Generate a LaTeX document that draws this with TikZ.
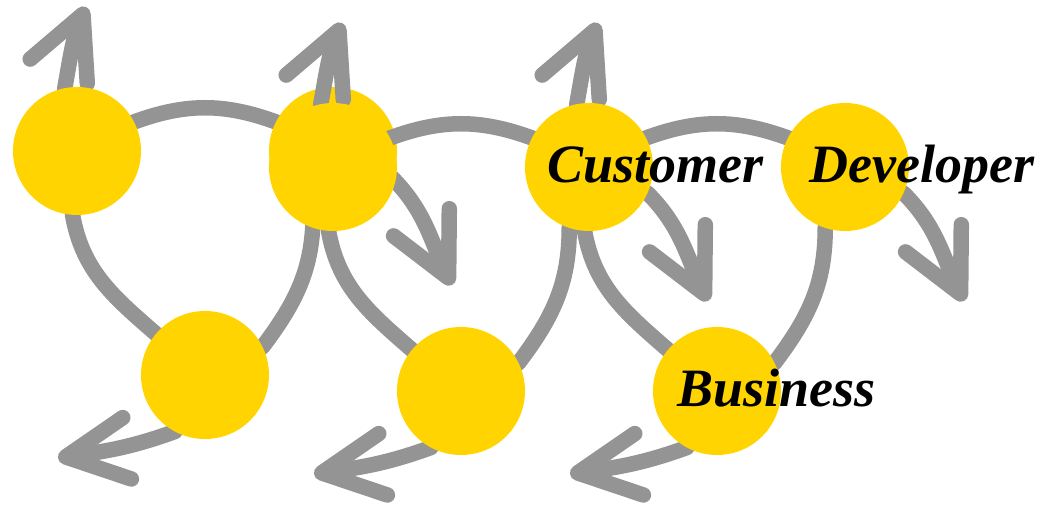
\documentclass[tikz,border=0pt]{standalone}
\usepackage{fontspec}
\setmainfont{Liberation Serif}
\usetikzlibrary{arrows.meta}
\pgfdeclarelayer{lines1}
\pgfdeclarelayer{dots1}
\pgfdeclarelayer{lines2}
\pgfdeclarelayer{dots2}
\pgfdeclarelayer{lines3}
\pgfsetlayers{lines1,dots1,lines2,dots2,lines3,main}
\definecolor{dotyellow}{RGB}{255,212,0}
\definecolor{bandgray}{RGB}{148,148,148}
\begin{document}
\begin{tikzpicture}[x=1pt, y=1pt,
    dot/.style={circle, fill=dotyellow, minimum size=128pt, inner sep=0pt, outer sep=0pt},
    band/.style={draw=bandgray, line width=15.5pt, line cap=round},
    flow/.style={band, -{Straight Barb[length=62pt, width=62pt, round]}},
    word/.style={anchor=base west, font=\fontsize{54}{60}\selectfont\bfseries\itshape}]
  \useasboundingbox (0,0) rectangle (1043,504);
  \begin{pgfonlayer}{dots1}
    \node[dot] (t1) at (77,353) {};
    \node[dot] (b1) at (205,129) {};
    \node[dot] (t2) at (333,353) {};
  \end{pgfonlayer}
  \begin{pgfonlayer}{dots2}
    \node[dot] (t2b) at (333,337) {};
    \node[dot] (b2) at (461,113) {};
  \end{pgfonlayer}
  \node[dot] (t3) at (589,337) {};
  \node[dot] (b3) at (717,113) {};
  \node[dot] (t4) at (845,337) {};
  \coordinate (up1) at (86,497);
  \coordinate (up2) at (342,481);
  \coordinate (up3) at (598,481);
  \coordinate (dr1) at (452,219);
  \coordinate (dr2) at (708,203);
  \coordinate (dr3) at (964,203);
  \coordinate (lt1) at (58,46);
  \coordinate (lt2) at (314,30);
  \coordinate (lt3) at (570,30);
  \begin{pgfonlayer}{lines1}
    \draw[band] (t1.27) to[out=20, in=160] (t2.153);
    \draw[band] (t1.-94) to[out=-80, in=139] (b1.140);
    \draw[band] (t2.-108) to[out=-90, in=53] (b1.26);
    \draw[flow] (t1.101) to[out=80, in=-113] (up1);
    \draw[flow] (t2.-24) to[out=-45, in=116] (dr1);
    \draw[flow] (b1.-118) to[out=200, in=8] (lt1);
  \end{pgfonlayer}
  \begin{pgfonlayer}{lines2}
    \draw[band] (t2b.27) to[out=20, in=160] (t3.153);
    \draw[band] (t2b.-94) to[out=-80, in=139] (b2.140);
    \draw[band] (t3.-108) to[out=-90, in=53] (b2.26);
    \draw[flow] (t2b.101) to[out=80, in=-113] (up2);
    \draw[flow] (t3.-24) to[out=-45, in=116] (dr2);
    \draw[flow] (b2.-118) to[out=200, in=8] (lt2);
  \end{pgfonlayer}
  \begin{pgfonlayer}{lines3}
    \draw[band] (t3.27) to[out=20, in=160] (t4.153);
    \draw[band] (t3.-94) to[out=-80, in=139] (b3.140);
    \draw[band] (t4.-108) to[out=-90, in=53] (b3.26);
    \draw[flow] (t3.101) to[out=80, in=-113] (up3);
    \draw[flow] (t4.-24) to[out=-45, in=116] (dr3);
    \draw[flow] (b3.-118) to[out=200, in=8] (lt3);
  \end{pgfonlayer}
  \node[word] (customer) at (544,321) {Customer};
  \node[word] (developer) at (806,321) {Developer};
  \node[word] (business) at (674,98) {Business};
\end{tikzpicture}
\end{document}
